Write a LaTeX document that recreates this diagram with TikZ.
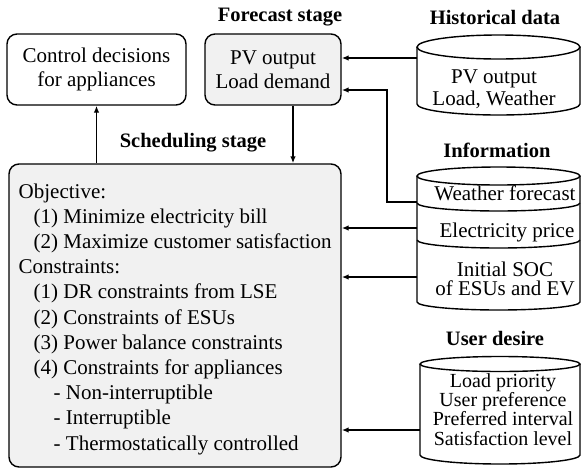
\documentclass[tikz,border=0pt]{standalone}
\usepackage{fontspec}
\setmainfont{Liberation Serif}
\usetikzlibrary{arrows.meta}
\definecolor{boxgray}{RGB}{241,241,241}
\begin{document}
\begin{tikzpicture}[x=1pt,y=-1pt,line width=1.4pt,
  box/.style={draw,rounded corners=10pt,align=center,inner sep=0pt},
  ttl/.style={font=\fontsize{20.5}{24}\selectfont\bfseries,inner sep=0pt},
  txt/.style={font=\fontsize{21}{24}\selectfont,align=center,inner sep=0pt},
  ctxt/.style={font=\fontsize{20}{19.2}\selectfont,align=center,inner sep=0pt},
  arr/.style={-{Latex[length=7pt,width=5.5pt]},line width=1.4pt},
  cyl/.style={draw,fill=white,line width=1.4pt}]
\useasboundingbox (0,0) rectangle (581,472);

% boxes
\node[box,fill=white,minimum width=179pt,minimum height=71pt,txt] (ctrl) at (96.5,69.5) {Control decisions\\for appliances};
\node[box,fill=boxgray,minimum width=136pt,minimum height=71pt,txt] (fc) at (273,69.5) {PV output\\Load demand};
\node[ttl] (fct) at (280,17) {Forecast stage};
\node[box,fill=boxgray,minimum width=332pt,minimum height=303pt] (sch) at (175,315.5) {};
\node[anchor=west,align=left,inner sep=0pt,font=\fontsize{21}{25.2}\selectfont] (schtxt) at (18,319) {Objective:\\
\hspace*{15pt}(1) Minimize electricity bill\\
\hspace*{15pt}(2) Maximize customer satisfaction\\
Constraints:\\
\hspace*{15pt}(1) DR constraints from LSE\\
\hspace*{15pt}(2) Constraints of ESUs\\
\hspace*{15pt}(3) Power balance constraints\\
\hspace*{15pt}(4) Constraints for appliances\\
\hspace*{35pt}- Non-interruptible\\
\hspace*{35pt}- Interruptible\\
\hspace*{35pt}- Thermostatically controlled};
\node[ttl] (scht) at (193,143) {Scheduling stage};

% historical cylinder
\node[ttl] (hit) at (495,17) {Historical data};
\path[cyl] (417,47) -- (417,104) arc[start angle=180,end angle=360,x radius=81.5pt,y radius=11pt] -- (580,47);
\draw[cyl] (498.5,47) ellipse[x radius=81.5pt,y radius=12pt];
\node[txt,font=\fontsize{21}{22}\selectfont] (hi) at (494,89) {PV output\\Load, Weather};
\coordinate (hin) at (417,58);

% information cylinder
\node[ttl] (inft) at (497,150) {Information};
\path[cyl] (417,176) -- (417,302) arc[start angle=180,end angle=360,x radius=81.5pt,y radius=8pt] -- (580,176);
\draw[cyl] (498.5,176) ellipse[x radius=81.5pt,y radius=9pt];
\draw (417,203) arc[start angle=180,end angle=360,x radius=81.5pt,y radius=8pt];
\draw (417,240) arc[start angle=180,end angle=360,x radius=81.5pt,y radius=8pt];
\node[txt] (wf) at (505,193) {Weather forecast};
\node[txt] (ep) at (507,232) {Electricity price};
\node[txt,font=\fontsize{21}{19.5}\selectfont] (soc) at (505,279) {Initial SOC\\of ESUs and EV};
\coordinate (win) at (417,202);
\coordinate (ein) at (417,228);
\coordinate (sin) at (417,277);
\coordinate (wk) at (387,202);

% user desire cylinder
\node[ttl] (udt) at (495,338) {User desire};
\path[cyl] (420,364) -- (420,455) arc[start angle=180,end angle=360,x radius=80pt,y radius=9pt] -- (580,364);
\draw[cyl] (500,364) ellipse[x radius=80pt,y radius=7.5pt];
\node[ctxt] (ud) at (503,409.5) {Load priority\\User preference\\Preferred interval\\Satisfaction level};
\coordinate (uin) at (420,430);

% connectors
\draw[arr] (sch.north -| ctrl.south) -- (ctrl.south);
\draw[arr] (fc.south -| 293,0) -- (sch.north -| 293,0);
\draw[arr] (hin) -- (hin -| fc.east);
\draw[arr] (win) -- (wk) -- (wk |- 0,90) -- (fc.east |- 0,90);
\draw[arr] (ein) -- (ein -| sch.east);
\draw[arr] (sin) -- (sin -| sch.east);
\draw[arr] (uin) -- (uin -| sch.east);
\end{tikzpicture}
\end{document}
